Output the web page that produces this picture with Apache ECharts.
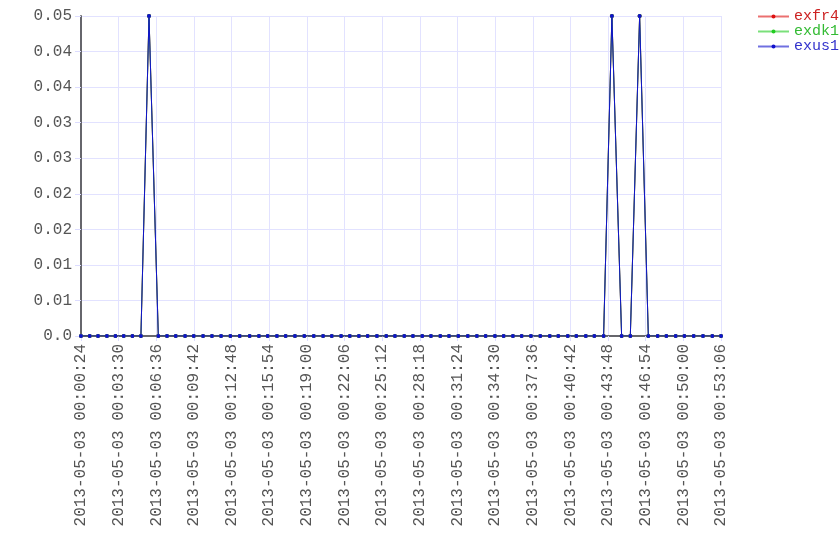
<!DOCTYPE html>
<html>
<head>
<meta charset="utf-8">
<script src="https://cdn.jsdelivr.net/npm/echarts@6/dist/echarts.min.js"></script>
<style>html,body{margin:0;padding:0;background:#fff}#c{width:840px;height:560px}</style>
</head>
<body>
<div id="c"></div>
<script>
const seriesNames = ['exfr4', 'exdk1', 'exus1'];
const seriesColors = ['#dd1111', '#22cc22', '#1111cc'];
const legendTextColors = ['#cc2222', '#33bb33', '#3333cc'];

const times = [
 '2013-05-03 00:00:24','2013-05-03 00:01:07','2013-05-03 00:01:48','2013-05-03 00:02:32','2013-05-03 00:03:14',
 '2013-05-03 00:03:55','2013-05-03 00:04:38','2013-05-03 00:05:20','2013-05-03 00:06:00','2013-05-03 00:06:46',
 '2013-05-03 00:07:29','2013-05-03 00:08:12','2013-05-03 00:08:58','2013-05-03 00:09:41','2013-05-03 00:10:27',
 '2013-05-03 00:11:11','2013-05-03 00:11:56','2013-05-03 00:12:42','2013-05-03 00:13:28','2013-05-03 00:14:17',
 '2013-05-03 00:15:03','2013-05-03 00:15:46','2013-05-03 00:16:32','2013-05-03 00:17:15','2013-05-03 00:18:01',
 '2013-05-03 00:18:47','2013-05-03 00:19:34','2013-05-03 00:20:20','2013-05-03 00:21:03','2013-05-03 00:21:49',
 '2013-05-03 00:22:32','2013-05-03 00:23:17','2013-05-03 00:24:00','2013-05-03 00:24:46','2013-05-03 00:25:32',
 '2013-05-03 00:26:15','2013-05-03 00:27:01','2013-05-03 00:27:44','2013-05-03 00:28:30','2013-05-03 00:29:13',
 '2013-05-03 00:29:59','2013-05-03 00:30:42','2013-05-03 00:31:28','2013-05-03 00:32:15','2013-05-03 00:33:00',
 '2013-05-03 00:33:43','2013-05-03 00:34:29','2013-05-03 00:35:12','2013-05-03 00:35:58','2013-05-03 00:36:41',
 '2013-05-03 00:37:27','2013-05-03 00:38:13','2013-05-03 00:39:00','2013-05-03 00:39:42','2013-05-03 00:40:29',
 '2013-05-03 00:41:11','2013-05-03 00:41:58','2013-05-03 00:42:40','2013-05-03 00:43:26','2013-05-03 00:44:07',
 '2013-05-03 00:44:55','2013-05-03 00:45:38','2013-05-03 00:46:24','2013-05-03 00:47:07','2013-05-03 00:47:53',
 '2013-05-03 00:48:36','2013-05-03 00:49:22','2013-05-03 00:50:05','2013-05-03 00:50:51','2013-05-03 00:51:37',
 '2013-05-03 00:52:23','2013-05-03 00:53:06'
];

const exfr4 = [
 0,0,0,0,0,0,0,0,0.05,0,
 0,0,0,0,0,0,0,0,0,0,
 0,0,0,0,0,0,0,0,0,0,
 0,0,0,0,0,0,0,0,0,0,
 0,0,0,0,0,0,0,0,0,0,
 0,0,0,0,0,0,0,0,0,0.05,
 0,0,0.05,0,0,0,0,0,0,0,
 0,0
];
const exdk1 = [
 0,0,0,0,0,0,0,0,0.05,0,
 0,0,0,0,0,0,0,0,0,0,
 0,0,0,0,0,0,0,0,0,0,
 0,0,0,0,0,0,0,0,0,0,
 0,0,0,0,0,0,0,0,0,0,
 0,0,0,0,0,0,0,0,0,0.05,
 0,0,0.05,0,0,0,0,0,0,0,
 0,0
];
const exus1 = [
 0,0,0,0,0,0,0,0,0.05,0,
 0,0,0,0,0,0,0,0,0,0,
 0,0,0,0,0,0,0,0,0,0,
 0,0,0,0,0,0,0,0,0,0,
 0,0,0,0,0,0,0,0,0,0,
 0,0,0,0,0,0,0,0,0,0.05,
 0,0,0.05,0,0,0,0,0,0,0,
 0,0
];

const xTickLabels = [
 '2013-05-03 00:00:24','2013-05-03 00:03:30','2013-05-03 00:06:36','2013-05-03 00:09:42','2013-05-03 00:12:48',
 '2013-05-03 00:15:54','2013-05-03 00:19:00','2013-05-03 00:22:06','2013-05-03 00:25:12','2013-05-03 00:28:18',
 '2013-05-03 00:31:24','2013-05-03 00:34:30','2013-05-03 00:37:36','2013-05-03 00:40:42','2013-05-03 00:43:48',
 '2013-05-03 00:46:54','2013-05-03 00:50:00','2013-05-03 00:53:06'
];
const yTickLabels = ['0.0','0.01','0.01','0.02','0.02','0.03','0.03','0.04','0.04','0.05'];
const yMax = 0.05;

function toMs(s) {
  const m = s.match(/(\d+)-(\d+)-(\d+) (\d+):(\d+):(\d+)/);
  return Date.UTC(+m[1], +m[2] - 1, +m[3], +m[4], +m[5], +m[6]);
}
const tickMs = xTickLabels.map(toMs);
const timeMs = times.map(toMs);
const yInterval = yMax / (yTickLabels.length - 1);

const FONT = 'Liberation Mono';
const allSeries = [exfr4, exdk1, exus1];

const chart = echarts.init(document.getElementById('c'), null, { renderer: 'canvas' });
chart.setOption({
  animation: false,
  backgroundColor: '#ffffff',
  grid: { left: 81, right: 119, top: 16, bottom: 224, containLabel: false },
  legend: {
    orient: 'vertical',
    left: 752,
    top: 4,
    itemWidth: 31,
    itemHeight: 5,
    itemGap: 0,
    lineStyle: { width: 2, opacity: 0.6 },
    textStyle: { fontFamily: FONT, fontSize: 15, lineHeight: 15 },
    data: seriesNames.map((n, i) => ({ name: n, textStyle: { color: legendTextColors[i] } }))
  },
  xAxis: {
    type: 'value',
    min: timeMs[0],
    max: timeMs[timeMs.length - 1],
    axisLine: { show: true, lineStyle: { color: '#66666c', width: 2 } },
    axisTick: { show: true, customValues: tickMs, length: 5, lineStyle: { color: '#dcdcff' } },
    splitLine: { show: true, lineStyle: { color: '#e2e2ff', width: 1 } },
    axisLabel: {
      customValues: tickMs,
      rotate: 90,
      margin: 8,
      fontFamily: FONT,
      fontSize: 16,
      color: '#555555',
      formatter: function (v) {
        let best = 0;
        for (let i = 1; i < tickMs.length; i++) if (Math.abs(tickMs[i] - v) < Math.abs(tickMs[best] - v)) best = i;
        return xTickLabels[best];
      }
    }
  },
  yAxis: {
    type: 'value',
    min: 0,
    max: yMax,
    interval: yInterval,
    axisLine: { show: true, lineStyle: { color: '#66666c', width: 2 } },
    axisTick: { show: true, length: 6, lineStyle: { color: '#dcdcff' } },
    splitLine: { show: true, lineStyle: { color: '#e2e2ff', width: 1 } },
    axisLabel: {
      margin: 9,
      fontFamily: FONT,
      fontSize: 16,
      color: '#555555',
      formatter: function (v) { return yTickLabels[Math.round(v / yInterval)]; }
    }
  },
  series: seriesNames.map((n, i) => ({
    name: n,
    type: 'line',
    data: timeMs.map((t, k) => [t, allSeries[i][k]]),
    symbol: 'circle',
    symbolSize: 4,
    showSymbol: true,
    lineStyle: { width: 1, color: seriesColors[i] },
    itemStyle: { color: seriesColors[i] },
    emphasis: { disabled: true }
  }))
});
</script>
</body>
</html>
